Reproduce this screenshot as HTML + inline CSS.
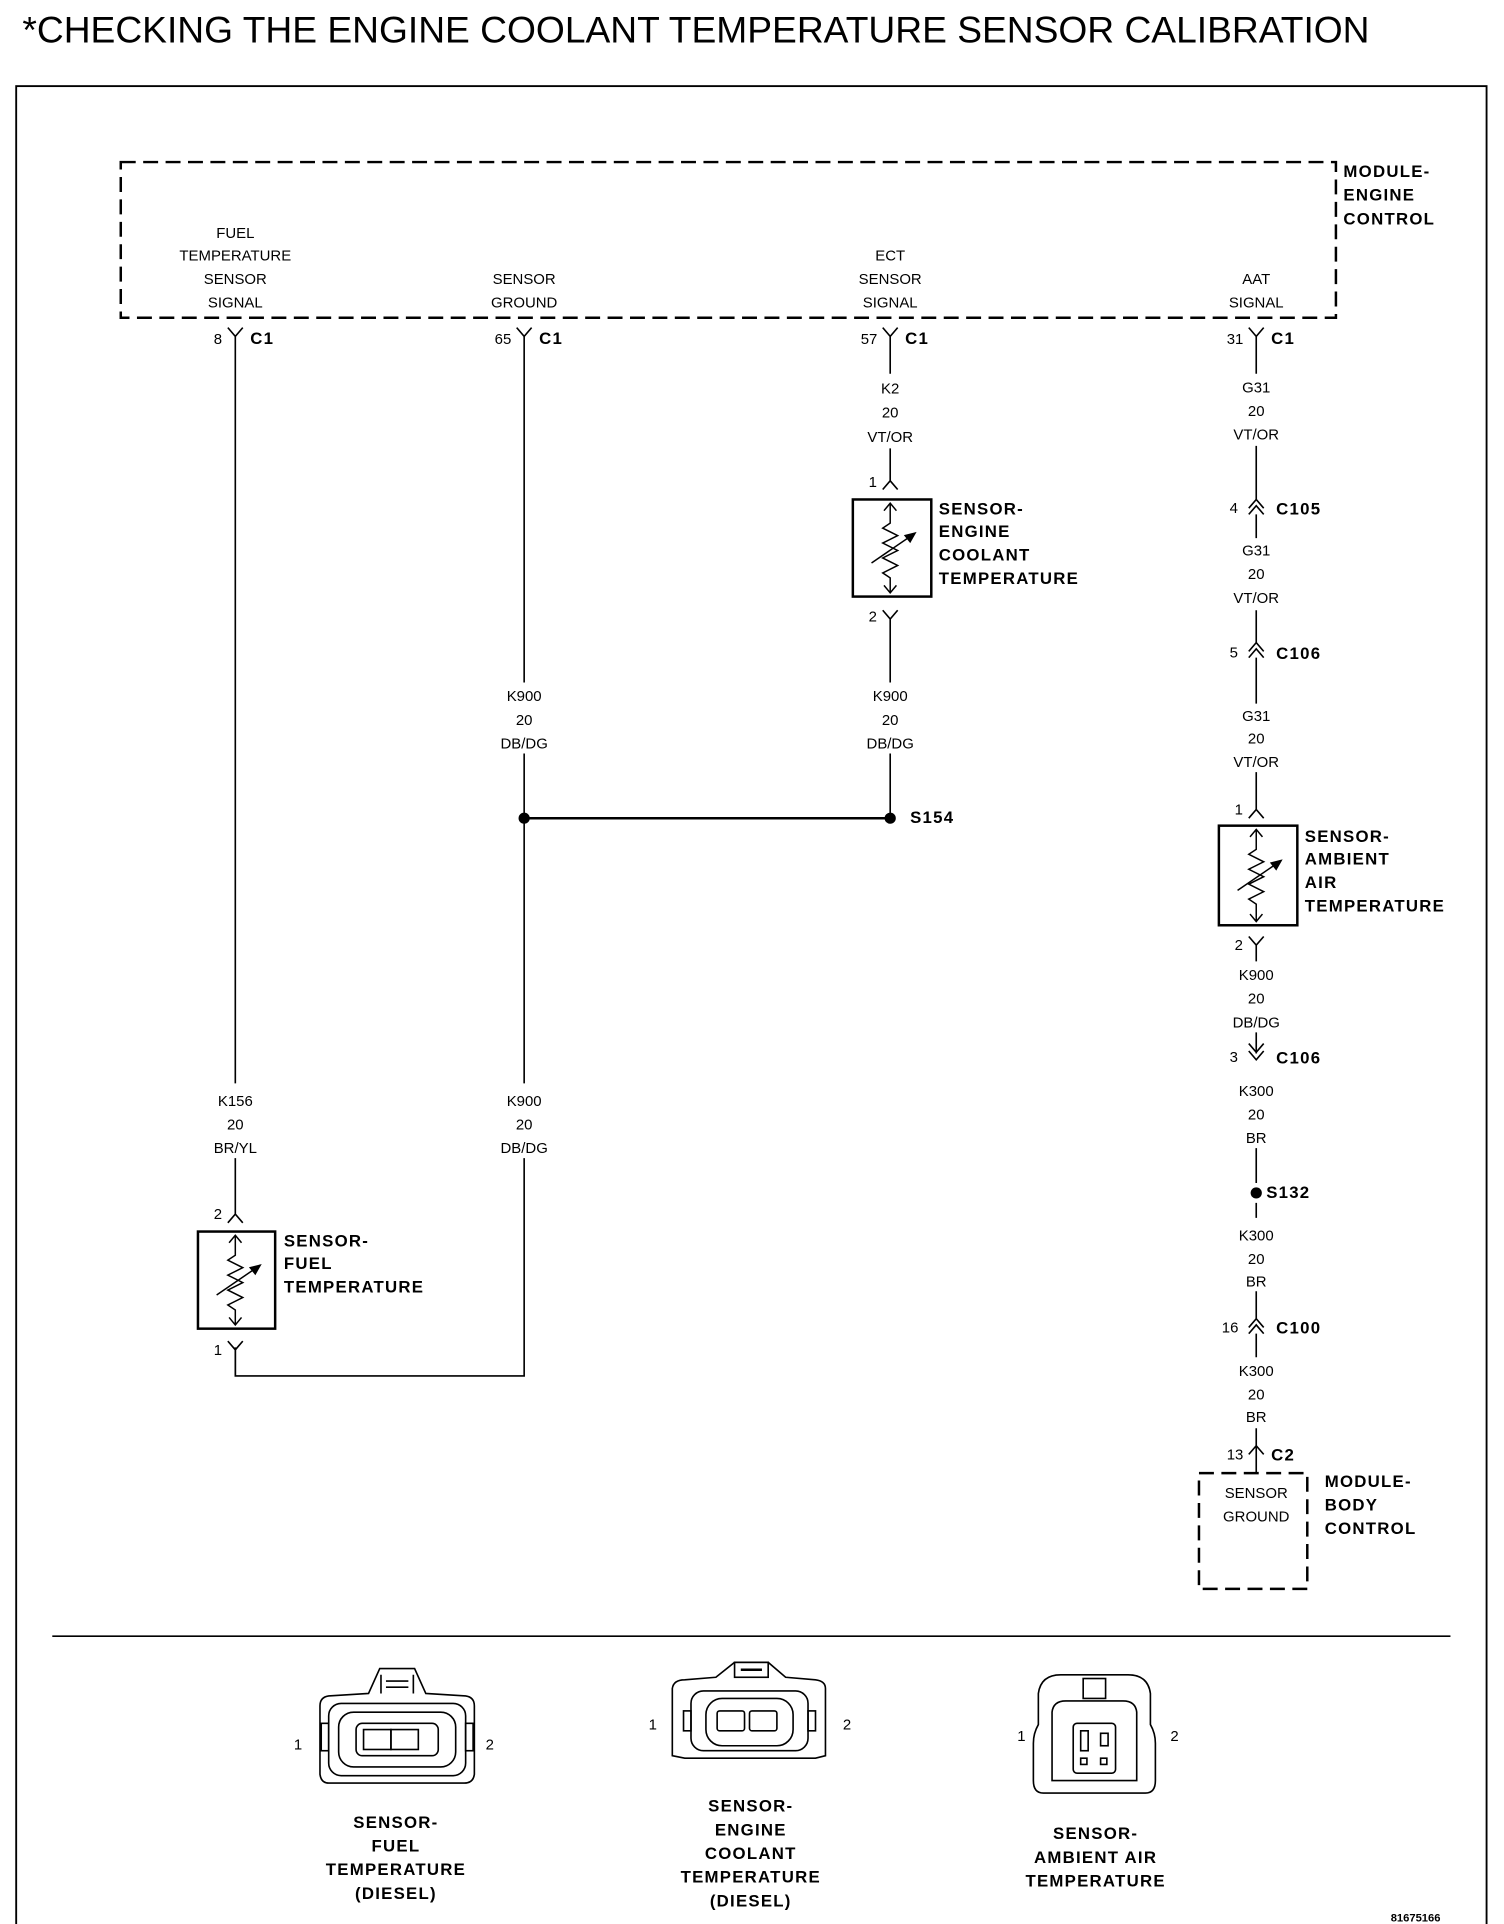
<!DOCTYPE html>
<html><head><meta charset="utf-8"><style>
html,body{margin:0;padding:0;background:#fff}
svg{display:block}
text{font-family:"Liberation Sans",sans-serif;fill:#000}
.s{font-size:12px;text-anchor:middle}
.sl{font-size:12px}
.b{font-size:13.5px;font-weight:bold;letter-spacing:1px}
.bc{font-size:13.5px;font-weight:bold;letter-spacing:1px;text-anchor:middle}
</style></head><body>
<svg width="1504" height="1924" viewBox="0 0 1208 1545" xmlns="http://www.w3.org/2000/svg">
<g fill="none" stroke="#000" stroke-width="1.3">
<rect x="13" y="69" width="1181" height="1487" stroke-width="1.5"/>
<rect x="97" y="130" width="976" height="125" stroke-width="2" stroke-dasharray="12,6"/>
<rect x="963" y="1183" width="87" height="93" stroke-width="2" stroke-dasharray="12,6"/>
<line x1="42" y1="1314" x2="1165" y2="1314"/>
<path d="M183 263 L189 270 L195 263 M189 270 V870"/>
<path d="M415 263 L421 270 L427 263 M421 270 V548 M421 605 V870 M421 930 V1105 H189 V1082"/>
<path d="M709 263 L715 270 L721 263 M715 270 V300 M715 360 V386 M709 393 L715 386 L721 393"/>
<path d="M1003 263 L1009 270 L1015 263 M1009 270 V300"/>
<path d="M189 930 V968 M183 982 L189 975 L195 982 M189 975 V968"/>
<rect x="159" y="989" width="62" height="78" stroke-width="2"/>
<path d="M183 1077 L189 1084 L195 1077 M189 1084 V1105"/>
<rect x="685" y="401" width="63" height="78" stroke-width="2"/>
<path d="M709 490 L715 497 L721 490 M715 497 V548 M715 605 V655"/>
<line x1="421" y1="657" x2="715" y2="657" stroke-width="2"/>
<path d="M1009 358 V401 M1003 408 L1009 401 L1015 408 M1003 413 L1009 406 L1015 413 M1009 413 V432"/>
<path d="M1009 490 V516 M1003 523 L1009 516 L1015 523 M1003 528 L1009 521 L1015 528 M1009 528 V565"/>
<path d="M1009 620 V650 M1003 657 L1009 650 L1015 657"/>
<rect x="979" y="663" width="63" height="80" stroke-width="2"/>
<path d="M1003 752 L1009 759 L1015 752 M1009 759 V772"/>
<path d="M1009 829 V846 M1003 838 L1009 845 L1015 838 M1003 844 L1009 851 L1015 844"/>
<path d="M1009 922 V950 M1009 966 V978 M1009 1037 V1059 M1003 1066 L1009 1059 L1015 1066 M1003 1071 L1009 1064 L1015 1071 M1009 1071 V1090 M1009 1147 V1161 M1003 1168 L1009 1161 L1015 1168 M1009 1161 V1183"/>
</g>
<g fill="none" stroke="#000" stroke-width="1.2">
<path d="M715 404 V420 L709 424 L721 430 L709 436 L721 442 L709 448 L721 454 L709 460 L715 464 V476 M710 410 L715 404 L720 410 M710 470 L715 476 L720 470"/><path d="M700 452 L735 428"/><path d="M735 428 L727 430 L731 435 Z" fill="#000"/>
<path d="M189 992 V1008 L183 1012 L195 1018 L183 1024 L195 1030 L183 1036 L195 1042 L183 1048 L189 1052 V1064 M184 998 L189 992 L194 998 M184 1058 L189 1064 L194 1058"/><path d="M174 1040 L209 1016"/><path d="M209 1016 L201 1018 L205 1023 Z" fill="#000"/>
<path d="M1009 666 V682 L1003 686 L1015 692 L1003 698 L1015 704 L1003 710 L1015 716 L1003 722 L1009 726 V740 M1004 672 L1009 666 L1014 672 M1004 734 L1009 740 L1014 734"/><path d="M994 715 L1029 691"/><path d="M1029 691 L1021 693 L1025 698 Z" fill="#000"/>
</g>
<circle cx="421" cy="657" r="4.5"/><circle cx="715" cy="657" r="4.5"/><circle cx="1009" cy="958" r="4.5"/>
<text x="18" y="34" style="font-size:29.5px" textLength="1082" lengthAdjust="spacingAndGlyphs">*CHECKING THE ENGINE COOLANT TEMPERATURE SENSOR CALIBRATION</text>
<text class="b" x="1079" y="142">MODULE-</text><text class="b" x="1079" y="161">ENGINE</text><text class="b" x="1079" y="180">CONTROL</text>
<text class="s" x="189" y="191">FUEL</text><text class="s" x="189" y="209">TEMPERATURE</text><text class="s" x="189" y="228">SENSOR</text><text class="s" x="189" y="247">SIGNAL</text>
<text class="s" x="421" y="228">SENSOR</text><text class="s" x="421" y="247">GROUND</text>
<text class="s" x="715" y="209">ECT</text><text class="s" x="715" y="228">SENSOR</text><text class="s" x="715" y="247">SIGNAL</text>
<text class="s" x="1009" y="228">AAT</text><text class="s" x="1009" y="247">SIGNAL</text>
<text class="s" x="175" y="276">8</text><text class="b" x="201" y="276">C1</text>
<text class="s" x="404" y="276">65</text><text class="b" x="433" y="276">C1</text>
<text class="s" x="698" y="276">57</text><text class="b" x="727" y="276">C1</text>
<text class="s" x="992" y="276">31</text><text class="b" x="1021" y="276">C1</text>
<text class="s" x="715" y="316">K2</text><text class="s" x="715" y="335">20</text><text class="s" x="715" y="355">VT/OR</text>
<text class="s" x="701" y="391">1</text><text class="s" x="701" y="499">2</text>
<text class="b" x="754" y="413">SENSOR-</text><text class="b" x="754" y="431">ENGINE</text><text class="b" x="754" y="450">COOLANT</text><text class="b" x="754" y="469">TEMPERATURE</text>
<text class="s" x="421" y="563">K900</text><text class="s" x="421" y="582">20</text><text class="s" x="421" y="601">DB/DG</text>
<text class="s" x="715" y="563">K900</text><text class="s" x="715" y="582">20</text><text class="s" x="715" y="601">DB/DG</text>
<text class="b" x="731" y="661">S154</text>
<text class="s" x="189" y="888">K156</text><text class="s" x="189" y="907">20</text><text class="s" x="189" y="926">BR/YL</text>
<text class="s" x="421" y="888">K900</text><text class="s" x="421" y="907">20</text><text class="s" x="421" y="926">DB/DG</text>
<text class="s" x="175" y="979">2</text><text class="s" x="175" y="1088">1</text>
<text class="b" x="228" y="1001">SENSOR-</text><text class="b" x="228" y="1019">FUEL</text><text class="b" x="228" y="1038">TEMPERATURE</text>
<text class="s" x="1009" y="315">G31</text><text class="s" x="1009" y="334">20</text><text class="s" x="1009" y="353">VT/OR</text>
<text class="s" x="991" y="412">4</text><text class="b" x="1025" y="413">C105</text>
<text class="s" x="1009" y="446">G31</text><text class="s" x="1009" y="465">20</text><text class="s" x="1009" y="484">VT/OR</text>
<text class="s" x="991" y="528">5</text><text class="b" x="1025" y="529">C106</text>
<text class="s" x="1009" y="579">G31</text><text class="s" x="1009" y="597">20</text><text class="s" x="1009" y="616">VT/OR</text>
<text class="s" x="995" y="654">1</text><text class="s" x="995" y="763">2</text>
<text class="b" x="1048" y="676">SENSOR-</text><text class="b" x="1048" y="694">AMBIENT</text><text class="b" x="1048" y="713">AIR</text><text class="b" x="1048" y="732">TEMPERATURE</text>
<text class="s" x="1009" y="787">K900</text><text class="s" x="1009" y="806">20</text><text class="s" x="1009" y="825">DB/DG</text>
<text class="s" x="991" y="853">3</text><text class="b" x="1025" y="854">C106</text>
<text class="s" x="1009" y="880">K300</text><text class="s" x="1009" y="899">20</text><text class="s" x="1009" y="918">BR</text>
<text class="b" x="1017" y="962">S132</text>
<text class="s" x="1009" y="996">K300</text><text class="s" x="1009" y="1015">20</text><text class="s" x="1009" y="1033">BR</text>
<text class="s" x="988" y="1070">16</text><text class="b" x="1025" y="1071">C100</text>
<text class="s" x="1009" y="1105">K300</text><text class="s" x="1009" y="1124">20</text><text class="s" x="1009" y="1142">BR</text>
<text class="s" x="992" y="1172">13</text><text class="b" x="1021" y="1173">C2</text>
<text class="s" x="1009" y="1203">SENSOR</text><text class="s" x="1009" y="1222">GROUND</text>
<text class="b" x="1064" y="1194">MODULE-</text><text class="b" x="1064" y="1213">BODY</text><text class="b" x="1064" y="1232">CONTROL</text>
<g fill="none" stroke="#000" stroke-width="1.3">
<path d="M257 1425 V1370 Q257 1363 264 1362 L296 1360 L305 1340 H333 L342 1360 L374 1362 Q381 1363 381 1370 V1425 Q380 1432 373 1432 H264 Q258 1432 257 1425 Z"/>
<path d="M306 1345 V1360 M332 1345 V1360 M310 1350 H328 M310 1355 H328"/>
<rect x="264" y="1368" width="110" height="58" rx="10"/>
<rect x="272" y="1375" width="94" height="44" rx="12"/>
<rect x="286" y="1384" width="66" height="26" rx="5"/>
<rect x="292" y="1389" width="22" height="16"/><rect x="314" y="1389" width="22" height="16"/>
<rect x="258" y="1384" width="6" height="22"/><rect x="374" y="1384" width="6" height="22"/>
<path d="M540 1410 V1356 Q541 1349 550 1349 L575 1347 L590 1335 H617 L631 1347 L655 1349 Q663 1350 663 1356 V1410 L655 1412 H550 Z"/>
<rect x="590" y="1335" width="27" height="12"/><line x1="595" y1="1341" x2="612" y2="1341" stroke-width="2"/>
<rect x="555" y="1358" width="94" height="48" rx="10"/>
<rect x="567" y="1364" width="70" height="38" rx="13"/>
<rect x="576" y="1374" width="22" height="16" rx="2"/><rect x="602" y="1374" width="22" height="16" rx="2"/>
<rect x="549" y="1374" width="6" height="16"/><rect x="649" y="1374" width="6" height="16"/>
<path d="M838 1440 Q830 1440 830 1430 V1400 Q830 1392 834 1385 V1360 Q836 1345 852 1345 H906 Q922 1345 924 1360 V1385 Q928 1392 928 1400 V1430 Q928 1440 920 1440 Z"/>
<rect x="870" y="1348" width="18" height="16"/>
<path d="M845 1430 V1375 Q846 1366 856 1366 H902 Q912 1366 913 1375 V1430 Z"/>
<rect x="862" y="1384" width="34" height="40" rx="3"/>
<rect x="868" y="1390" width="6" height="16"/><rect x="884" y="1392" width="6" height="10"/>
<rect x="868" y="1412" width="5" height="5"/><rect x="884" y="1412" width="5" height="5"/>
</g>
<text class="sl" x="236" y="1405">1</text><text class="sl" x="390" y="1405">2</text>
<text class="sl" x="521" y="1389">1</text><text class="sl" x="677" y="1389">2</text>
<text class="sl" x="817" y="1398">1</text><text class="sl" x="940" y="1398">2</text>
<text class="bc" x="318" y="1468">SENSOR-</text><text class="bc" x="318" y="1487">FUEL</text><text class="bc" x="318" y="1506">TEMPERATURE</text><text class="bc" x="318" y="1525">(DIESEL)</text>
<text class="bc" x="603" y="1455">SENSOR-</text><text class="bc" x="603" y="1474">ENGINE</text><text class="bc" x="603" y="1493">COOLANT</text><text class="bc" x="603" y="1512">TEMPERATURE</text><text class="bc" x="603" y="1531">(DIESEL)</text>
<text class="bc" x="880" y="1477">SENSOR-</text><text class="bc" x="880" y="1496">AMBIENT AIR</text><text class="bc" x="880" y="1515">TEMPERATURE</text>
<text x="1117" y="1543" style="font-size:9px;font-weight:bold">81675166</text>
</svg>
</body></html>
